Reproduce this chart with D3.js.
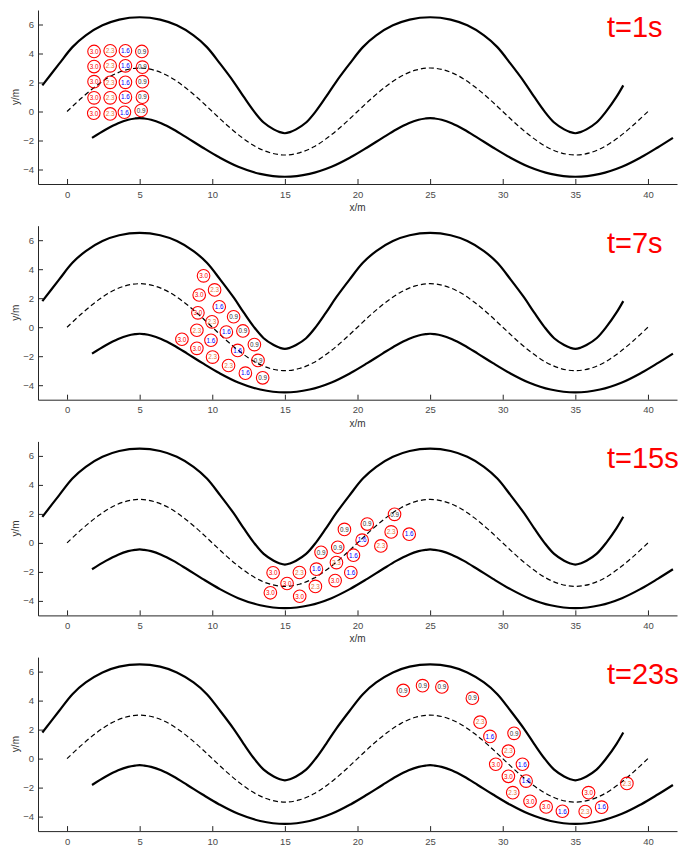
<!DOCTYPE html>
<html><head><meta charset="utf-8">
<script src="https://cdn.jsdelivr.net/npm/d3@7"></script>
<style>body{margin:0;background:#fff} svg{display:block}</style>
</head><body>
<svg id="c" width="694" height="846"></svg>
<script>
// ---- data ----
const xTicks = [0,5,10,15,20,25,30,35,40];
const yTicks = [-4,-2,0,2,4,6];
const timeLabels = ["t=1s","t=7s","t=15s","t=23s"];

const centerLine = [[0,0],[1,0.93],[2,1.76],[3,2.43],[4,2.85],[5,3],[6,2.85],[7,2.43],[8,1.76],[9,0.93],
 [10,0],[11,-0.93],[12,-1.76],[13,-2.43],[14,-2.85],[15,-3],[16,-2.85],[17,-2.43],[18,-1.76],[19,-0.93],
 [20,0],[21,0.93],[22,1.76],[23,2.43],[24,2.85],[25,3],[26,2.85],[27,2.43],[28,1.76],[29,0.93],
 [30,0],[31,-0.93],[32,-1.76],[33,-2.43],[34,-2.85],[35,-3],[36,-2.85],[37,-2.43],[38,-1.76],[39,-0.93],[40,0]];

const upperEdge = [[-1.70,1.80],[-0.55,3.28],[0.37,4.44],[1.29,5.25],[2.44,5.94],[3.59,6.34],[5.00,6.50],
 [6.41,6.34],[7.56,5.94],[8.71,5.25],[9.63,4.44],[10.55,3.28],[11.47,2.05],[12.16,1.02],[12.85,0.04],
 [13.54,-0.76],[14.23,-1.23],[14.65,-1.42],[15.00,-1.50],[15.35,-1.42],[15.77,-1.23],[16.46,-0.76],
 [17.15,0.04],[17.84,1.02],[18.53,2.05],[19.45,3.28],[20.37,4.44],[21.29,5.25],[22.44,5.94],[23.59,6.34],
 [25.00,6.50],[26.41,6.34],[27.56,5.94],[28.71,5.25],[29.63,4.44],[30.55,3.28],[31.47,2.05],[32.16,1.02],
 [32.85,0.04],[33.54,-0.76],[34.23,-1.23],[34.65,-1.42],[35.00,-1.50],[35.35,-1.42],[35.77,-1.23],
 [36.46,-0.76],[37.15,0.04],[37.84,1.02],[38.30,1.80]];

const lowerEdge = [[1.72,-1.82],[2.67,-1.24],[3.52,-0.81],[4.21,-0.57],[4.70,-0.48],[5.00,-0.45],[5.30,-0.48],
 [5.79,-0.57],[6.48,-0.81],[7.33,-1.24],[8.28,-1.82],[9.33,-2.48],[10.48,-3.16],[11.79,-3.81],[13.30,-4.30],
 [15.00,-4.50],[16.70,-4.30],[18.21,-3.81],[19.52,-3.16],[20.67,-2.48],[21.72,-1.82],[22.67,-1.24],[23.52,-0.81],
 [24.21,-0.57],[24.70,-0.48],[25.00,-0.45],[25.30,-0.48],[25.79,-0.57],[26.48,-0.81],[27.33,-1.24],[28.28,-1.82],
 [29.33,-2.48],[30.48,-3.16],[31.79,-3.81],[33.30,-4.30],[35.00,-4.50],[36.70,-4.30],[38.21,-3.81],[39.52,-3.16],
 [40.67,-2.48],[41.72,-1.82]];

const agentsT1 = [
 [1.86,4.14,"3.0"],[2.97,4.19,"2.3"],[4.02,4.19,"1.6"],[5.15,4.14,"0.9"],
 [1.86,3.10,"3.0"],[2.97,3.15,"2.3"],[4.02,3.15,"1.6"],[5.19,3.06,"0.9"],
 [1.86,2.06,"3.0"],[2.97,2.01,"2.3"],[4.02,2.01,"1.6"],[5.19,2.06,"0.9"],
 [1.86,0.94,"3.0"],[2.97,0.94,"2.3"],[4.02,0.99,"1.6"],[5.19,0.99,"0.9"],
 [1.84,-0.12,"3.0"],[2.97,-0.17,"2.3"],[3.95,-0.05,"1.6"],[5.10,0.07,"0.9"]];

const agentsT7 = [
 [9.40,3.54,"3.0"],[10.16,2.57,"2.3"],[9.10,2.22,"3.0"],[10.48,1.41,"1.6"],[9.01,0.99,"3.0"],
 [11.47,0.72,"0.9"],[9.98,0.37,"2.3"],[8.94,-0.21,"2.3"],[10.97,-0.33,"1.6"],[12.11,-0.26,"0.9"],
 [7.91,-0.83,"3.0"],[9.91,-0.90,"1.6"],[12.90,-1.20,"0.9"],[8.94,-1.46,"3.0"],[11.75,-1.60,"1.6"],
 [10.02,-2.06,"2.3"],[13.15,-2.29,"0.9"],[11.12,-2.64,"2.3"],[12.28,-3.17,"1.6"],[13.47,-3.49,"0.9"]];

const agentsT15 = [
 [22.55,1.97,"0.9"],[20.67,1.30,"0.9"],[22.32,0.76,"2.3"],[23.56,0.60,"1.6"],[19.10,0.93,"0.9"],
 [20.32,0.19,"1.6"],[21.61,-0.21,"2.3"],[18.64,-0.30,"0.9"],[17.49,-0.65,"0.9"],[19.72,-0.85,"1.6"],
 [18.55,-1.36,"2.3"],[17.17,-1.81,"1.6"],[16.00,-2.04,"2.3"],[14.19,-2.06,"3.0"],[19.54,-2.04,"1.6"],
 [18.46,-2.60,"3.0"],[15.15,-2.80,"3.0"],[17.10,-3.00,"2.3"],[14.00,-3.44,"3.0"],[16.02,-3.68,"3.0"]];

const agentsT23 = [
 [23.15,4.70,"0.9"],[24.48,5.03,"0.9"],[25.81,4.94,"0.9"],[27.91,4.17,"0.9"],[28.44,2.51,"2.3"],
 [29.12,1.53,"1.6"],[30.78,1.74,"0.9"],[30.39,0.51,"2.3"],[29.52,-0.39,"3.0"],[31.36,-0.39,"1.6"],
 [30.39,-1.22,"3.0"],[31.61,-1.55,"1.6"],[30.69,-2.35,"2.3"],[35.91,-2.35,"3.0"],[38.55,-1.71,"2.3"],
 [31.88,-2.94,"3.0"],[32.99,-3.33,"3.0"],[34.11,-3.63,"1.6"],[35.68,-3.65,"2.3"],[36.81,-3.35,"1.6"]];

const panelAgents = [agentsT1, agentsT7, agentsT15, agentsT23];
const labelColor = {"3.0":"#ff0000","2.3":"#e8743b","1.6":"#0000ff","0.9":"#333333"};

// ---- layout ----
const left = 38, right = 677, panelH = 174, panelStep = 215.7, top0 = 10;
const font = "'Liberation Sans', Arial, sans-serif";
const svg = d3.select("#c");
const x = d3.scaleLinear().domain([-2,42]).range([left,right]);

panelAgents.forEach((agents, i) => {
  const top = top0 + i*panelStep;
  const y = d3.scaleLinear().domain([-5,7]).range([top+panelH, top]);
  const g = svg.append("g");

  const line = d3.line().x(d=>x(d[0])).y(d=>y(d[1])).curve(d3.curveCatmullRom.alpha(0.5));
  g.append("path").attr("d", line(upperEdge)).attr("fill","none").attr("stroke","#000").attr("stroke-width",2.2);
  g.append("path").attr("d", line(lowerEdge)).attr("fill","none").attr("stroke","#000").attr("stroke-width",2.2);
  g.append("path").attr("d", line(centerLine)).attr("fill","none").attr("stroke","#000")
    .attr("stroke-width",1.2).attr("stroke-dasharray","5,3");

  // axes
  const xa = g.append("g").attr("transform",`translate(0,${top+panelH})`)
    .call(d3.axisBottom(x).tickValues(xTicks).tickSizeInner(-5).tickSizeOuter(0).tickPadding(7));
  const ya = g.append("g").attr("transform",`translate(${left},0)`)
    .call(d3.axisLeft(y).tickValues(yTicks).tickSizeInner(-5).tickSizeOuter(0).tickPadding(4));
  [xa,ya].forEach(a=>{
    a.select(".domain").attr("stroke","#262626").attr("stroke-width",1);
    a.selectAll(".tick line").attr("stroke","#262626");
    a.selectAll(".tick text").attr("fill","#4a4a4a").attr("font-size","9.5px").attr("font-family",font);
  });

  if (i < 3) {
    g.append("text").attr("x", x(20)).attr("y", top+panelH+27).attr("text-anchor","middle")
      .attr("font-family",font).attr("font-size","10px").attr("fill","#333").text("x/m");
  }
  g.append("text").attr("transform",`translate(19,${y(1)}) rotate(-90)`).attr("text-anchor","middle")
    .attr("font-family",font).attr("font-size","10px").attr("fill","#333").text("y/m");

  // agents
  const ag = g.selectAll("g.agent").data(agents).join("g").attr("class","agent")
    .attr("transform", d=>`translate(${x(d[0])},${y(d[1])})`);
  ag.append("circle").attr("r",6.3).attr("fill","none").attr("stroke","#ff0000").attr("stroke-width",1.1);
  ag.append("text").attr("text-anchor","middle").attr("dy","0.36em")
    .attr("font-family",font).attr("font-size","6.3px")
    .attr("fill", d=>labelColor[d[2]]).text(d=>d[2]);

  g.append("text").attr("x",607).attr("y",top+27).attr("fill","#ff0000")
    .attr("font-family",font).attr("font-size","29px").text(timeLabels[i]);
});
</script>
</body></html>
